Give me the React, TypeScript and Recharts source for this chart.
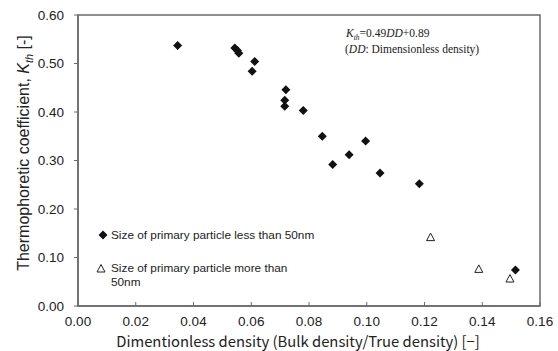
import React from 'react';
import {
  ScatterChart,
  Scatter,
  XAxis,
  YAxis,
  ReferenceArea,
  Customized,
} from 'recharts';

// primary particle < 50nm
const smallDensity = [0.0345, 0.0543, 0.0552, 0.0557, 0.0603, 0.0612, 0.072, 0.0716, 0.0716, 0.078, 0.0846, 0.0882, 0.0939, 0.0996, 0.1046, 0.1182, 0.1515];
const smallKth = [0.537, 0.532, 0.527, 0.521, 0.484, 0.504, 0.446, 0.424, 0.412, 0.403, 0.35, 0.292, 0.312, 0.34, 0.274, 0.252, 0.074];

// primary particle > 50nm
const largeDensity = [0.1221, 0.1388, 0.1496];
const largeKth = [0.141, 0.0755, 0.0556];

const xTicks = [0, 0.02, 0.04, 0.06, 0.08, 0.1, 0.12, 0.14, 0.16];
const yTicks = [0, 0.1, 0.2, 0.3, 0.4, 0.5, 0.6];

const smallData = smallDensity.map((x, i) => ({ x, y: smallKth[i] }));
const largeData = largeDensity.map((x, i) => ({ x, y: largeKth[i] }));

const SANS = '"Liberation Sans", Arial, sans-serif';
const NARROW = '"Liberation Sans Narrow", "Arial Narrow", "Liberation Sans", sans-serif';
const GOTHIC = '"Noto Sans CJK JP", sans-serif';
const SERIF = '"Liberation Serif", "Times New Roman", serif';
const FRAME = '#6a6a6a';

const Diamond = (props: any) => {
  const { cx, cy } = props;
  const r = 4.5;
  return <path d={`M${cx},${cy - r}L${cx + r},${cy}L${cx},${cy + r}L${cx - r},${cy}Z`} fill="#111" />;
};

const Triangle = (props: any) => {
  const { cx, cy } = props;
  return (
    <path
      d={`M${cx},${cy - 4.5}L${cx + 4},${cy + 3}L${cx - 4},${cy + 3}Z`}
      fill="#fff"
      stroke="#222"
      strokeWidth={1}
    />
  );
};

const Notes = () => (
  <g>
    {/* equation */}
    <text x={346} y={37} fontFamily={SERIF} fontSize={11.5} fill="#222">
      <tspan fontStyle="italic">K</tspan>
      <tspan fontStyle="italic" fontSize={7.5} dy={3}>th</tspan>
      <tspan dy={-3}>=0.49</tspan>
      <tspan fontStyle="italic">DD</tspan>
      <tspan>+0.89</tspan>
    </text>
    <text x={345} y={53} fontFamily={SERIF} fontSize={11.5} fill="#222">
      <tspan>(</tspan>
      <tspan fontStyle="italic">DD</tspan>
      <tspan>: Dimensionless density)</tspan>
    </text>

    {/* legend */}
    <Diamond cx={103} cy={235} />
    <text x={111} y={239} fontFamily={SANS} fontSize={11.8} fill="#222">
      Size of primary particle less than 50nm
    </text>
    <Triangle cx={101} cy={269} />
    <text x={111} y={272} fontFamily={SANS} fontSize={11.8} fill="#222">
      Size of primary particle more than
    </text>
    <text x={111} y={286} fontFamily={SANS} fontSize={11.8} fill="#222">
      50nm
    </text>

    {/* axis titles */}
    <text
      x={298}
      y={347}
      textAnchor="middle"
      fontFamily={GOTHIC}
      fontSize={14.8}
      fill="#222"
    >
      Dimentionless density (Bulk density/True density) [−]
    </text>
    <text
      transform="translate(29,153) rotate(-90)"
      textAnchor="middle"
      fontFamily={NARROW}
      fontSize={16}
      fill="#222"
    >
      <tspan>Thermophoretic coefficient, </tspan>
      <tspan fontStyle="italic">K</tspan>
      <tspan fontStyle="italic" fontSize={11} dy={4}>th</tspan>
      <tspan dy={-4}> [-]</tspan>
    </text>
  </g>
);

const App: React.FC = () => {
  return (
    <div style={{ width: 558, height: 351, background: '#fff' }}>
      <style>{'body{margin:0}'}</style>
      <ScatterChart width={558} height={351} margin={{ top: 15, right: 18, bottom: 0, left: 0 }}>
        <XAxis
          type="number"
          dataKey="x"
          domain={[0, 0.16]}
          ticks={xTicks}
          interval={0}
          height={45}
          tickFormatter={(v: number) => v.toFixed(2)}
          tick={{ fontSize: 13.5, fill: '#222', fontFamily: SANS }}
          tickSize={-4}
          tickMargin={14}
          axisLine={{ stroke: FRAME, strokeWidth: 1.5 }}
          tickLine={{ stroke: FRAME }}
        />
        <YAxis
          type="number"
          dataKey="y"
          domain={[0, 0.6]}
          ticks={yTicks}
          interval={0}
          width={78}
          tickFormatter={(v: number) => v.toFixed(2)}
          tick={{ fontSize: 13.5, fill: '#222', fontFamily: SANS }}
          tickSize={4}
          tickMargin={10}
          axisLine={{ stroke: FRAME, strokeWidth: 1.5 }}
          tickLine={{ stroke: FRAME }}
        />
        <ReferenceArea
          x1={0}
          x2={0.16}
          y1={0}
          y2={0.6}
          fill="none"
          stroke={FRAME}
          strokeWidth={1.5}
          ifOverflow="visible"
        />
        <Scatter data={smallData} shape={Diamond} isAnimationActive={false} />
        <Scatter data={largeData} shape={Triangle} isAnimationActive={false} />
        <Customized component={Notes} />
      </ScatterChart>
    </div>
  );
};

export default App;
